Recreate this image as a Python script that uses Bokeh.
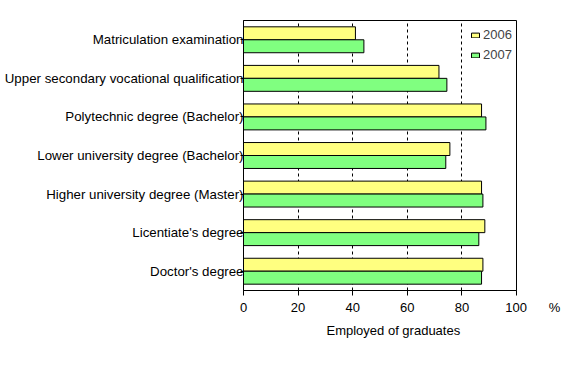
from bokeh.plotting import figure
from bokeh.models import ColumnDataSource, FactorRange, Legend, LegendItem, Title
from bokeh.transform import dodge
from bokeh.embed import file_html
from bokeh.resources import INLINE

categories = [
    "Matriculation examination",
    "Upper secondary vocational qualification",
    "Polytechnic degree (Bachelor)",
    "Lower university degree (Bachelor)",
    "Higher university degree (Master)",
    "Licentiate's degree",
    "Doctor's degree",
]
y2006 = [41.0, 71.6, 87.2, 75.6, 87.2, 88.4, 87.7]
y2007 = [44.1, 74.5, 88.8, 74.1, 87.7, 86.2, 87.2]
x_ticks = [0, 20, 40, 60, 80, 100]
x_title = "Employed of graduates"
unit_label = "%"

FONT = "Liberation Sans"
NBSP = "\u00a0"
source = ColumnDataSource(dict(cat=categories, y2006=y2006, y2007=y2007))

p = figure(
    width=568, height=378,
    y_range=FactorRange(*reversed(categories)),
    x_range=(0, 100),
    output_backend="svg", toolbar_location=None,
    min_border_left=243, min_border_right=52,
    min_border_top=20, min_border_bottom=88,
)
p.background_fill_color = "white"
p.border_fill_color = "white"
p.outline_line_color = "black"
p.outline_line_width = 1

r1 = p.hbar(y=dodge("cat", 0.168, range=p.y_range), right="y2006", left=0, height=0.336,
            source=source, fill_color="#FFFF80", line_color="black", line_width=1)
r2 = p.hbar(y=dodge("cat", -0.168, range=p.y_range), right="y2007", left=0, height=0.336,
            source=source, fill_color="#80FF80", line_color="black", line_width=1)

p.xaxis.ticker = x_ticks
# the unit sign sits on the tick-label row, right of the last tick label
last = x_ticks[-1]
p.xaxis.major_label_overrides = {last: NBSP * 9 + str(last) + NBSP * 6 + unit_label}
p.xaxis.major_tick_out = 5
p.xaxis.major_tick_in = 0
p.xaxis.minor_tick_line_color = None
p.xaxis.major_label_standoff = 4
p.xaxis.major_label_text_font = FONT
p.xaxis.major_label_text_font_size = "13px"
p.xaxis.major_label_text_color = "black"
p.xaxis.axis_line_color = "black"

p.yaxis.major_tick_out = 3
p.yaxis.major_tick_in = 0
p.yaxis.major_label_standoff = -3
p.yaxis.major_label_text_font = FONT
p.yaxis.major_label_text_font_size = "13.3px"
p.yaxis.major_label_text_color = "black"
p.yaxis.axis_line_color = "black"

p.ygrid.grid_line_color = None
p.xgrid.grid_line_color = "black"
p.xgrid.grid_line_dash = "3 3"
p.xgrid.grid_line_width = 1

legend = Legend(
    items=[LegendItem(label="2006", renderers=[r1]), LegendItem(label="2007", renderers=[r2])],
    location=(227, 228),
    glyph_width=10, glyph_height=6, label_height=14, spacing=5,
    label_text_font=FONT, label_text_font_size="13px", label_standoff=3,
    padding=0, margin=0, border_line_color=None, background_fill_alpha=0,
)
p.add_layout(legend, "center")

title = Title(text=x_title, align="left", offset=83, standoff=6,
              text_font=FONT, text_font_size="13px", text_font_style="normal",
              text_color="black")
p.add_layout(title, "below")

open("out.html", "w").write(file_html(p, INLINE))
